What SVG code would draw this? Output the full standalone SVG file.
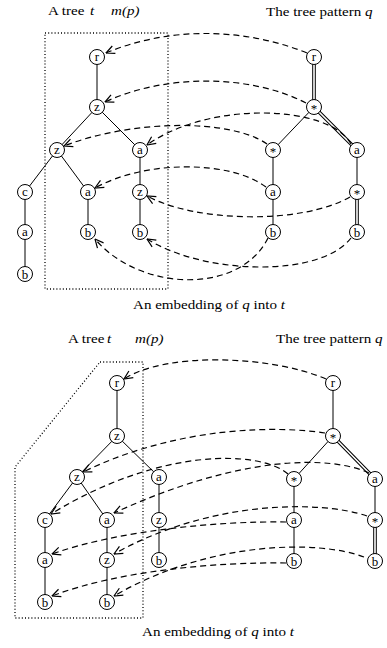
<svg xmlns="http://www.w3.org/2000/svg" width="387" height="648" viewBox="0 0 387 648">
  <style>
    .txt { font-family: "Liberation Serif", "Times New Roman", serif; font-size: 13px; fill: #000; }
    .it { font-style: italic; }
    .nl { font-family: "Liberation Serif", "Times New Roman", serif; font-size: 13px; fill: #000; text-anchor: middle; }
    .node circle { fill: #fff; stroke: #000; stroke-width: 1; }
    .edge { stroke: #000; stroke-width: 1; fill: none; }
    .dbl-out { stroke: #000; stroke-width: 3.6; fill: none; }
    .dbl-in { stroke: #fff; stroke-width: 1.6; fill: none; }
    .map { stroke: #000; stroke-width: 1.2; fill: none; stroke-dasharray: 6 4; marker-end: url(#open); }
    .frame { stroke: #000; stroke-width: 1.3; fill: none; stroke-dasharray: 1 2.2; }
  </style>
  <defs>
    <marker id="open" viewBox="0 0 10 10" refX="9.5" refY="5" markerWidth="10" markerHeight="10" markerUnits="userSpaceOnUse" orient="auto">
      <path d="M1,1 L9.5,5 L1,9" fill="none" stroke="#000" stroke-width="1.2"/>
    </marker>
  </defs>
  <rect width="387" height="648" fill="#fff"/>

  <!-- ===================== upper figure ===================== -->
  <g id="top-titles">
    <text class="txt" transform="translate(48,15) scale(1.16,1)">A tree</text>
    <text class="txt it" transform="translate(90,15) scale(1.16,1)">t</text>
    <text class="txt it" transform="translate(111,15) scale(1.16,1)">m(p)</text>
    <text class="txt" transform="translate(266,16) scale(1.16,1)">The tree pattern <tspan class="it">q</tspan></text>
    <text class="txt" transform="translate(133,309) scale(1.16,1)">An embedding of <tspan class="it">q</tspan> into <tspan class="it">t</tspan></text>
  </g>

  <rect id="top-frame" class="frame" x="45" y="33" width="123" height="256"/>

  <g id="top-connectors">
    <!-- tree t edges -->
    <path class="edge" d="M97,57 L97,107 M97,107 L57,150 M97,107 L140,150 M57,150 L25,192 M57,150 L88,192 M140,150 L140,192 M140,192 L140,232 M25,192 L25,232 M25,232 L25,274 M88,192 L88,232"/>
    <!-- pattern q edges -->
    <path class="dbl-out" d="M314,57 L314,107 M314,107 L357,150 M357,192 L357,232"/>
    <path class="dbl-in" d="M314,57 L314,107 M314,107 L357,150 M357,192 L357,232"/>
    <path class="edge" d="M314,107 L273,150 M273,150 L273,192 M273,192 L273,232 M357,150 L357,192"/>
    <!-- embedding -->
    <path class="map" d="M307,53 C240,26 165,28 106,53"/>
    <path class="map" d="M306,103 C250,74 165,74 105,102"/>
    <path class="map" d="M267,144 C230,118 130,120 64,146"/>
    <path class="map" d="M351,144 C330,105 210,100 147,145"/>
    <path class="map" d="M266,187 C230,160 145,160 95,188"/>
    <path class="map" d="M350,197 C300,225 195,222 147,196"/>
    <path class="map" d="M268,238 C240,295 140,292 95,239"/>
    <path class="map" d="M351,238 C320,278 205,275 147,239"/>
  </g>

  <g id="t1-r" class="node"><circle cx="97" cy="57" r="7.5"/><text class="nl" x="97" y="60.5">r</text></g>
  <g id="t1-z1" class="node"><circle cx="97" cy="107" r="7.5"/><text class="nl" x="97" y="110.5">z</text></g>
  <g id="t1-z2" class="node"><circle cx="57" cy="150" r="7.5"/><text class="nl" x="57" y="153.5">z</text></g>
  <g id="t1-a1" class="node"><circle cx="140" cy="150" r="7.5"/><text class="nl" x="140" y="153.5">a</text></g>
  <g id="t1-c" class="node"><circle cx="25" cy="192" r="7.5"/><text class="nl" x="25" y="195.5">c</text></g>
  <g id="t1-a2" class="node"><circle cx="88" cy="192" r="7.5"/><text class="nl" x="88" y="195.5">a</text></g>
  <g id="t1-z3" class="node"><circle cx="140" cy="192" r="7.5"/><text class="nl" x="140" y="195.5">z</text></g>
  <g id="t1-a3" class="node"><circle cx="25" cy="232" r="7.5"/><text class="nl" x="25" y="235.5">a</text></g>
  <g id="t1-b1" class="node"><circle cx="88" cy="232" r="7.5"/><text class="nl" x="88" y="236.5">b</text></g>
  <g id="t1-b2" class="node"><circle cx="140" cy="232" r="7.5"/><text class="nl" x="140" y="236.5">b</text></g>
  <g id="t1-b3" class="node"><circle cx="25" cy="274" r="7.5"/><text class="nl" x="25" y="278.5">b</text></g>

  <g id="q1-r" class="node"><circle cx="314" cy="57" r="7.5"/><text class="nl" x="314" y="60.5">r</text></g>
  <g id="q1-s1" class="node"><circle cx="314" cy="107" r="7.5"/><text class="nl" x="314" y="113">*</text></g>
  <g id="q1-s2" class="node"><circle cx="273" cy="150" r="7.5"/><text class="nl" x="273" y="156">*</text></g>
  <g id="q1-a1" class="node"><circle cx="357" cy="150" r="7.5"/><text class="nl" x="357" y="153.5">a</text></g>
  <g id="q1-a2" class="node"><circle cx="273" cy="192" r="7.5"/><text class="nl" x="273" y="195.5">a</text></g>
  <g id="q1-s3" class="node"><circle cx="357" cy="192" r="7.5"/><text class="nl" x="357" y="198">*</text></g>
  <g id="q1-b1" class="node"><circle cx="273" cy="232" r="7.5"/><text class="nl" x="273" y="236.5">b</text></g>
  <g id="q1-b2" class="node"><circle cx="357" cy="232" r="7.5"/><text class="nl" x="357" y="236.5">b</text></g>

  <!-- ===================== lower figure ===================== -->
  <g id="bottom-titles">
    <text class="txt" transform="translate(68,343) scale(1.16,1)">A tree</text>
    <text class="txt it" transform="translate(107,343) scale(1.16,1)">t</text>
    <text class="txt it" transform="translate(135,343) scale(1.16,1)">m(p)</text>
    <text class="txt" transform="translate(276,343) scale(1.16,1)">The tree pattern <tspan class="it">q</tspan></text>
    <text class="txt" transform="translate(142,636) scale(1.16,1)">An embedding of <tspan class="it">q</tspan> into <tspan class="it">t</tspan></text>
  </g>

  <path id="bottom-frame" class="frame" d="M100,362 L143,362 L143,618 L15,618 L15,467 Z"/>

  <g id="bottom-connectors">
    <!-- tree t edges -->
    <path class="edge" d="M117,383 L117,436 M117,436 L77,477 M117,436 L159,477 M77,477 L45,520 M77,477 L107,520 M159,477 L159,520 M159,520 L159,560 M45,520 L45,560 M45,560 L45,602 M107,520 L107,560 M107,560 L107,602"/>
    <!-- pattern q edges -->
    <path class="dbl-out" d="M333,436 L375,479 M375,520 L375,561"/>
    <path class="dbl-in" d="M333,436 L375,479 M375,520 L375,561"/>
    <path class="edge" d="M333,383 L333,436 M333,436 L294,479 M294,479 L294,520 M294,520 L294,561 M375,479 L375,520"/>
    <!-- embedding -->
    <path class="map" d="M326,379 C270,355 165,352 124,379"/>
    <path class="map" d="M325,433 C280,426 180,425 83,472"/>
    <path class="map" d="M288,474 C260,450 160,447 51,514"/>
    <path class="map" d="M369,473 C330,455 240,455 114,513"/>
    <path class="map" d="M286,522 C220,521 120,530 52,554"/>
    <path class="map" d="M367,516 C320,500 210,500 114,554"/>
    <path class="map" d="M286,563 C220,562 120,570 52,596"/>
    <path class="map" d="M364,557 C320,540 210,540 114,596"/>
  </g>

  <g id="t2-r" class="node"><circle cx="117" cy="383" r="7.5"/><text class="nl" x="117" y="386.5">r</text></g>
  <g id="t2-z1" class="node"><circle cx="117" cy="436" r="7.5"/><text class="nl" x="117" y="439.5">z</text></g>
  <g id="t2-z2" class="node"><circle cx="77" cy="477" r="7.5"/><text class="nl" x="77" y="480.5">z</text></g>
  <g id="t2-a1" class="node"><circle cx="159" cy="477" r="7.5"/><text class="nl" x="159" y="480.5">a</text></g>
  <g id="t2-c" class="node"><circle cx="45" cy="520" r="7.5"/><text class="nl" x="45" y="523.5">c</text></g>
  <g id="t2-a2" class="node"><circle cx="107" cy="520" r="7.5"/><text class="nl" x="107" y="523.5">a</text></g>
  <g id="t2-z3" class="node"><circle cx="159" cy="520" r="7.5"/><text class="nl" x="159" y="523.5">z</text></g>
  <g id="t2-a3" class="node"><circle cx="45" cy="560" r="7.5"/><text class="nl" x="45" y="563.5">a</text></g>
  <g id="t2-z4" class="node"><circle cx="107" cy="560" r="7.5"/><text class="nl" x="107" y="563.5">z</text></g>
  <g id="t2-b1" class="node"><circle cx="159" cy="560" r="7.5"/><text class="nl" x="159" y="564.5">b</text></g>
  <g id="t2-b2" class="node"><circle cx="45" cy="602" r="7.5"/><text class="nl" x="45" y="606.5">b</text></g>
  <g id="t2-b3" class="node"><circle cx="107" cy="602" r="7.5"/><text class="nl" x="107" y="606.5">b</text></g>

  <g id="q2-r" class="node"><circle cx="333" cy="383" r="7.5"/><text class="nl" x="333" y="386.5">r</text></g>
  <g id="q2-s1" class="node"><circle cx="333" cy="436" r="7.5"/><text class="nl" x="333" y="442">*</text></g>
  <g id="q2-s2" class="node"><circle cx="294" cy="479" r="7.5"/><text class="nl" x="294" y="485">*</text></g>
  <g id="q2-a1" class="node"><circle cx="375" cy="479" r="7.5"/><text class="nl" x="375" y="482.5">a</text></g>
  <g id="q2-a2" class="node"><circle cx="294" cy="520" r="7.5"/><text class="nl" x="294" y="523.5">a</text></g>
  <g id="q2-s3" class="node"><circle cx="375" cy="520" r="7.5"/><text class="nl" x="375" y="526">*</text></g>
  <g id="q2-b1" class="node"><circle cx="294" cy="561" r="7.5"/><text class="nl" x="294" y="565.5">b</text></g>
  <g id="q2-b2" class="node"><circle cx="375" cy="561" r="7.5"/><text class="nl" x="375" y="565.5">b</text></g>
</svg>
